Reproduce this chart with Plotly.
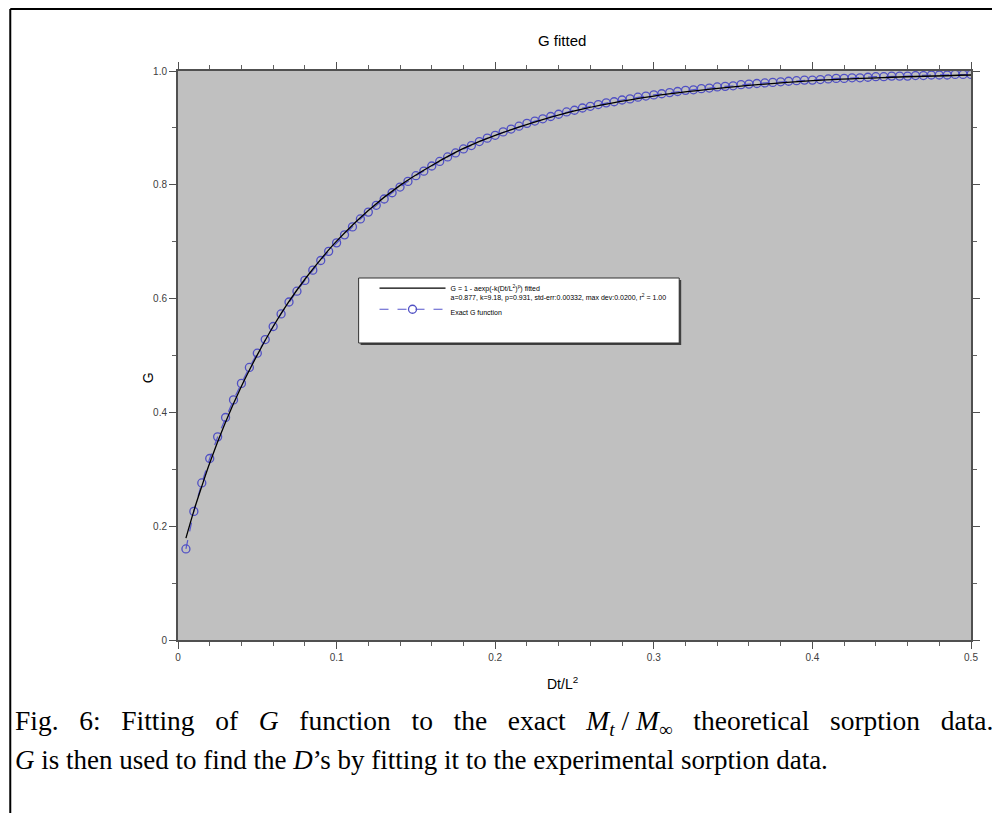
import plotly.graph_objects as go

# ---------------- data ----------------
tau_exact = [round(0.005 * i, 3) for i in range(1, 101)]
g_exact = [
    0.160, 0.226, 0.276, 0.319, 0.357, 0.391, 0.422, 0.451, 0.479, 0.504,
    0.528, 0.551, 0.573, 0.594, 0.613, 0.632, 0.650, 0.667, 0.683, 0.698,
    0.712, 0.726, 0.740, 0.752, 0.764, 0.775, 0.786, 0.796, 0.806, 0.816,
    0.824, 0.833, 0.841, 0.849, 0.856, 0.863, 0.869, 0.876, 0.882, 0.887,
    0.893, 0.898, 0.903, 0.908, 0.912, 0.916, 0.920, 0.924, 0.928, 0.931,
    0.935, 0.938, 0.941, 0.944, 0.946, 0.949, 0.951, 0.954, 0.956, 0.958,
    0.960, 0.962, 0.964, 0.966, 0.967, 0.969, 0.970, 0.972, 0.973, 0.974,
    0.976, 0.977, 0.978, 0.979, 0.980, 0.981, 0.982, 0.983, 0.984, 0.984,
    0.985, 0.986, 0.987, 0.987, 0.988, 0.988, 0.989, 0.990, 0.990, 0.991,
    0.991, 0.991, 0.992, 0.992, 0.993, 0.993, 0.993, 0.994, 0.994, 0.994,
]

tau_fit = [0.005, 0.01, 0.015, 0.02, 0.03, 0.04, 0.05, 0.06, 0.07, 0.08, 0.09,
           0.10, 0.12, 0.14, 0.16, 0.18, 0.20, 0.25, 0.30, 0.35, 0.40, 0.45, 0.50]
g_fit = [0.179, 0.227, 0.270, 0.311, 0.383, 0.446, 0.501, 0.551, 0.595, 0.634, 0.669,
         0.701, 0.755, 0.799, 0.834, 0.864, 0.887, 0.930, 0.956, 0.972, 0.983, 0.989, 0.993]

x_ticks = [0, 0.1, 0.2, 0.3, 0.4, 0.5]
x_labels = ["0", "0.1", "0.2", "0.3", "0.4", "0.5"]
y_ticks = [0, 0.2, 0.4, 0.6, 0.8, 1.0]
y_labels = ["0", "0.2", "0.4", "0.6", "0.8", "1.0"]

fit_name = ("G = 1 - aexp(-k(Dt/L<sup>2</sup>)<sup>p</sup>) fitted<br>"
            "a=0.877, k=9.18, p=0.931, std-err:0.00332, max dev:0.0200, r<sup>2</sup> = 1.00")
exact_name = "Exact G function"

# ---------------- layout geometry (page coordinates, body margin 8px) ----------------
OFF = 8
W, H = 1000 - 2 * OFF, 821 - 2 * OFF
PL, PR, PT, PB = 178, 977, 71, 640          # plot area on page
L, T = PL - OFF, PT - OFF
R = (W + OFF) - PR
B = (H + OFF) - PB
PW, PH = PR - PL, PB - PT


def px(xp):
    return (xp - PL) / PW


def py(yp):
    return (PB - yp) / PH


fig = go.Figure()

fig.add_trace(go.Scatter(
    x=tau_exact, y=g_exact, mode="lines+markers", name=exact_name,
    line=dict(color="#5555CC", width=1.2, dash="dash"),
    marker=dict(symbol="circle-open", size=8, color="#5050C4", line=dict(width=1.3)),
    legendrank=2,
))
fig.add_trace(go.Scatter(
    x=tau_fit, y=g_fit, mode="lines", name=fit_name,
    line=dict(color="black", width=1.3, shape="spline"),
    legendrank=1,
))

axis_common = dict(
    showline=True, linecolor="#505050", linewidth=2, mirror="allticks",
    ticks="outside", ticklen=7, tickcolor="#505050", tickwidth=1,
    showgrid=False, zeroline=False,
    tickfont=dict(family="Liberation Sans, Arial", size=10, color="#404040"),
)

fig.update_xaxes(range=[0, 0.5], tickvals=x_ticks, ticktext=x_labels,
                 minor=dict(dtick=0.02, ticklen=4, tickcolor="#606060", ticks="outside"),
                 **axis_common)
fig.update_yaxes(range=[0, 1], tickvals=y_ticks, ticktext=y_labels,
                 minor=dict(dtick=0.1, ticklen=4, tickcolor="#606060", ticks="outside"),
                 **axis_common)

# legend frame (shadow + box)
lx0, ly0, lx1, ly1 = 360, 278, 683, 343
shapes = [
    dict(type="rect", xref="paper", yref="paper", x0=px(lx0 + 2), x1=px(lx1 + 2),
         y0=py(ly1 + 2), y1=py(ly0 + 2), fillcolor="#404040", line=dict(width=0), layer="above"),
    dict(type="rect", xref="paper", yref="paper", x0=px(lx0), x1=px(lx1),
         y0=py(ly1), y1=py(ly0), fillcolor="white", line=dict(color="#303030", width=1), layer="above"),
    # page frame
    dict(type="line", xref="paper", yref="paper", x0=px(9), x1=px(9), y0=py(9), y1=py(830),
         line=dict(color="black", width=2)),
    dict(type="line", xref="paper", yref="paper", x0=px(9), x1=px(1010), y0=py(9), y1=py(9),
         line=dict(color="black", width=2)),
]


def ann(text, x, y, size, family="Liberation Sans, Arial", xanchor="center", **kw):
    return dict(text=text, xref="paper", yref="paper", x=px(x), y=py(y),
                xanchor=xanchor, yanchor="middle", showarrow=False,
                font=dict(family=family, size=size, color="black"), **kw)


SERIF = "Liberation Serif, Times New Roman"
sp = "&nbsp;&nbsp; "
line1 = ("Fig." + sp + "6:" + sp + "Fitting" + sp + "of" + sp + "<i>G</i>" + sp + "function" + sp + "to"
         + sp + "the" + sp + "exact" + sp + "<i>M<sub>t</sub></i> / <i>M</i><sub>∞</sub>" + sp
         + "theoretical" + sp + "sorption" + sp + "data.")
annotations = [
    ann("G fitted", 565, 40, 15),
    ann("G", 148, 378, 14, textangle=-90),
    ann("Dt/L<sup>2</sup>", 565, 683, 14),
    ann(line1, 12, 722, 27.5, family=SERIF, xanchor="left"),
    ann("<i>G</i> is then used to find the <i>D</i>’s by fitting it to the experimental sorption data.",
        12, 760, 27, family=SERIF, xanchor="left"),
]

fig.update_layout(
    width=W, height=H,
    margin=dict(l=L, r=R, t=T, b=B),
    paper_bgcolor="white", plot_bgcolor="#C0C0C0",
    showlegend=True,
    legend=dict(x=px(376), y=py(ly0 - 1), xanchor="left", yanchor="top",
                bgcolor="rgba(0,0,0,0)", borderwidth=0, valign="top", itemwidth=66,
                tracegroupgap=0,
                font=dict(family="Liberation Sans, Arial", size=7, color="black")),
    shapes=shapes, annotations=annotations,
)

fig.write_html("out.html")
